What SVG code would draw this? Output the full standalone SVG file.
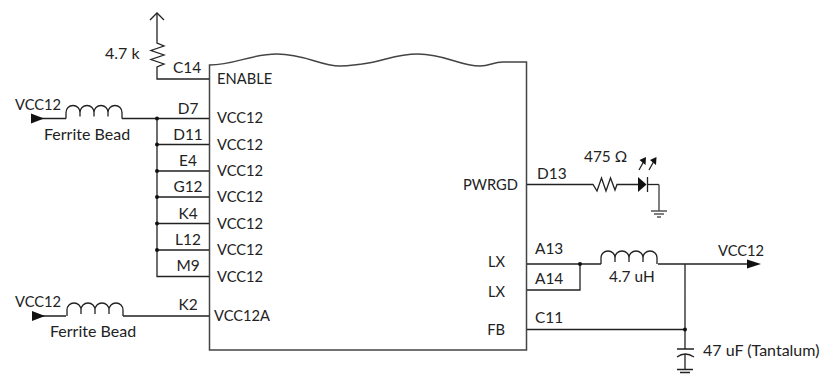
<svg xmlns="http://www.w3.org/2000/svg" width="824" height="375" viewBox="0 0 824 375">
<style>
text{font-family:"Lato","Carlito","Liberation Sans",sans-serif;font-size:14.7px;fill:#222}
.l{font-size:16px}
.n{font-size:15.4px}
.m{text-anchor:middle}
.e{text-anchor:end}
.w{fill:none;stroke:#222;stroke-width:1.3}
.g{fill:none;stroke:#555;stroke-width:1.5}
.b{fill:none;stroke:#444;stroke-width:1.5}
.d{fill:#111}
</style>
<defs>
<path id="ind" d="M0 0V-6C0-10 3-13 7-13S14-10 14-6V-2M14-6C14-10 17-13 21-13S28-10 28-6V-2M28-6C28-10 31-13 35-13S42-10 42-6V-2M42-6C42-10 45-13 49-13S56-10 56-6V0"/>
</defs>
<g id="ic">
<path class="b" d="M209.500 65C235 65 250 54 277 54C305 54 320 66 340 66C350 66 352 65 362 64C385 61 395 54 418 54C445 54 460 66 480 66C490 66 493 62 503 62H526.500V350H209.500Z"/>
<text x="217" y="84">ENABLE</text>
<text x="217" y="123">VCC12</text>
<text x="217" y="150">VCC12</text>
<text x="217" y="176">VCC12</text>
<text x="217" y="202">VCC12</text>
<text x="217" y="229">VCC12</text>
<text x="217" y="255">VCC12</text>
<text x="217" y="282">VCC12</text>
<text x="214" y="321">VCC12A</text>
<text class="e" x="518" y="190">PWRGD</text>
<text class="e" x="505" y="267">LX</text>
<text class="e" x="505" y="297">LX</text>
<text class="e" x="505" y="335">FB</text>
</g>
<g id="connectors">
<path class="w" d="M157 14V43L164 46L151 50.500L164 55L151 59.500L164 64L157 67V79H209"/>
<path class="w" d="M150 20L157 13L164 20"/>
<path class="w" d="M40 118.500H66M122 118.500H209M157 118.500V276.500H209M157 144.500H209M157 171H209M157 197H209M157 223.500H209M157 250H209"/>
<path class="w" d="M40 316H66M123 316H209"/>
<path class="w" d="M527 184.500H593L597 191L601.500 178L606 191L610.500 178L615 190L617 184.500H638"/>
<path class="w" d="M647 184.500H659"/>
<path class="g" d="M659 184.500V211M651 211H667M654 214H664M657 217H661"/>
<path class="w" d="M527 264H601M658 264H748M527 290H580V264M685 264V349M527 329.500H685M685 354V369"/>
<path class="w" d="M677 349H694M677 357Q685 351 694 357M677 369.500H693M680 372.500H690"/>
</g>
<g id="components">
<use href="#ind" class="w" x="66" y="118.500"/>
<use href="#ind" class="w" x="67" y="316"/>
<use href="#ind" class="w" x="601" y="264"/>
<path class="d" d="M31 113.500L44 118.500L31 123.500Z"/>
<path class="d" d="M32 311L45 316L32 321Z"/>
<path class="d" d="M747 259.500L761 264L747 268.500Z"/>
<path class="d" d="M638 177V192L646.500 184.500Z"/>
<path class="w" d="M647.500 177V192"/>
<path class="w" d="M639 170L644 161M649 170L654 161"/>
<path class="d" d="M639.500 160L646 157L645.500 165ZM650 160L656.500 157L656 165Z"/>
<circle class="d" cx="157" cy="118.500" r="2"/>
<circle class="d" cx="157" cy="144.500" r="2"/>
<circle class="d" cx="157" cy="171" r="2"/>
<circle class="d" cx="157" cy="197" r="2"/>
<circle class="d" cx="157" cy="223.500" r="2"/>
<circle class="d" cx="157" cy="250" r="2"/>
<circle class="d" cx="580" cy="264" r="2"/>
<circle class="d" cx="685" cy="329.500" r="2"/>
</g>
<g id="labels">
<text class="l" x="105" y="59">4.7 k</text>
<text class="n" x="173" y="73">C14</text>
<text class="m n" x="188" y="114">D7</text>
<text class="m n" x="188" y="140">D11</text>
<text class="m n" x="188" y="166">E4</text>
<text class="m n" x="188" y="192">G12</text>
<text class="m n" x="188" y="219">K4</text>
<text class="m n" x="188" y="245">L12</text>
<text class="m n" x="188" y="271">M9</text>
<text class="m n" x="188" y="310">K2</text>
<text x="15" y="110">VCC12</text>
<text x="15" y="307">VCC12</text>
<text class="l" x="44" y="140">Ferrite Bead</text>
<text class="l" x="50" y="337">Ferrite Bead</text>
<text class="n" x="537" y="179">D13</text>
<text class="n" x="584" y="162">475 Ω</text>
<text class="n" x="535" y="254">A13</text>
<text class="n" x="535" y="284">A14</text>
<text class="n" x="535" y="323">C11</text>
<text class="n" x="609" y="282">4.7 uH</text>
<text x="718" y="256">VCC12</text>
<text class="l" x="703" y="356">47 uF (Tantalum)</text>
</g>
</svg>
